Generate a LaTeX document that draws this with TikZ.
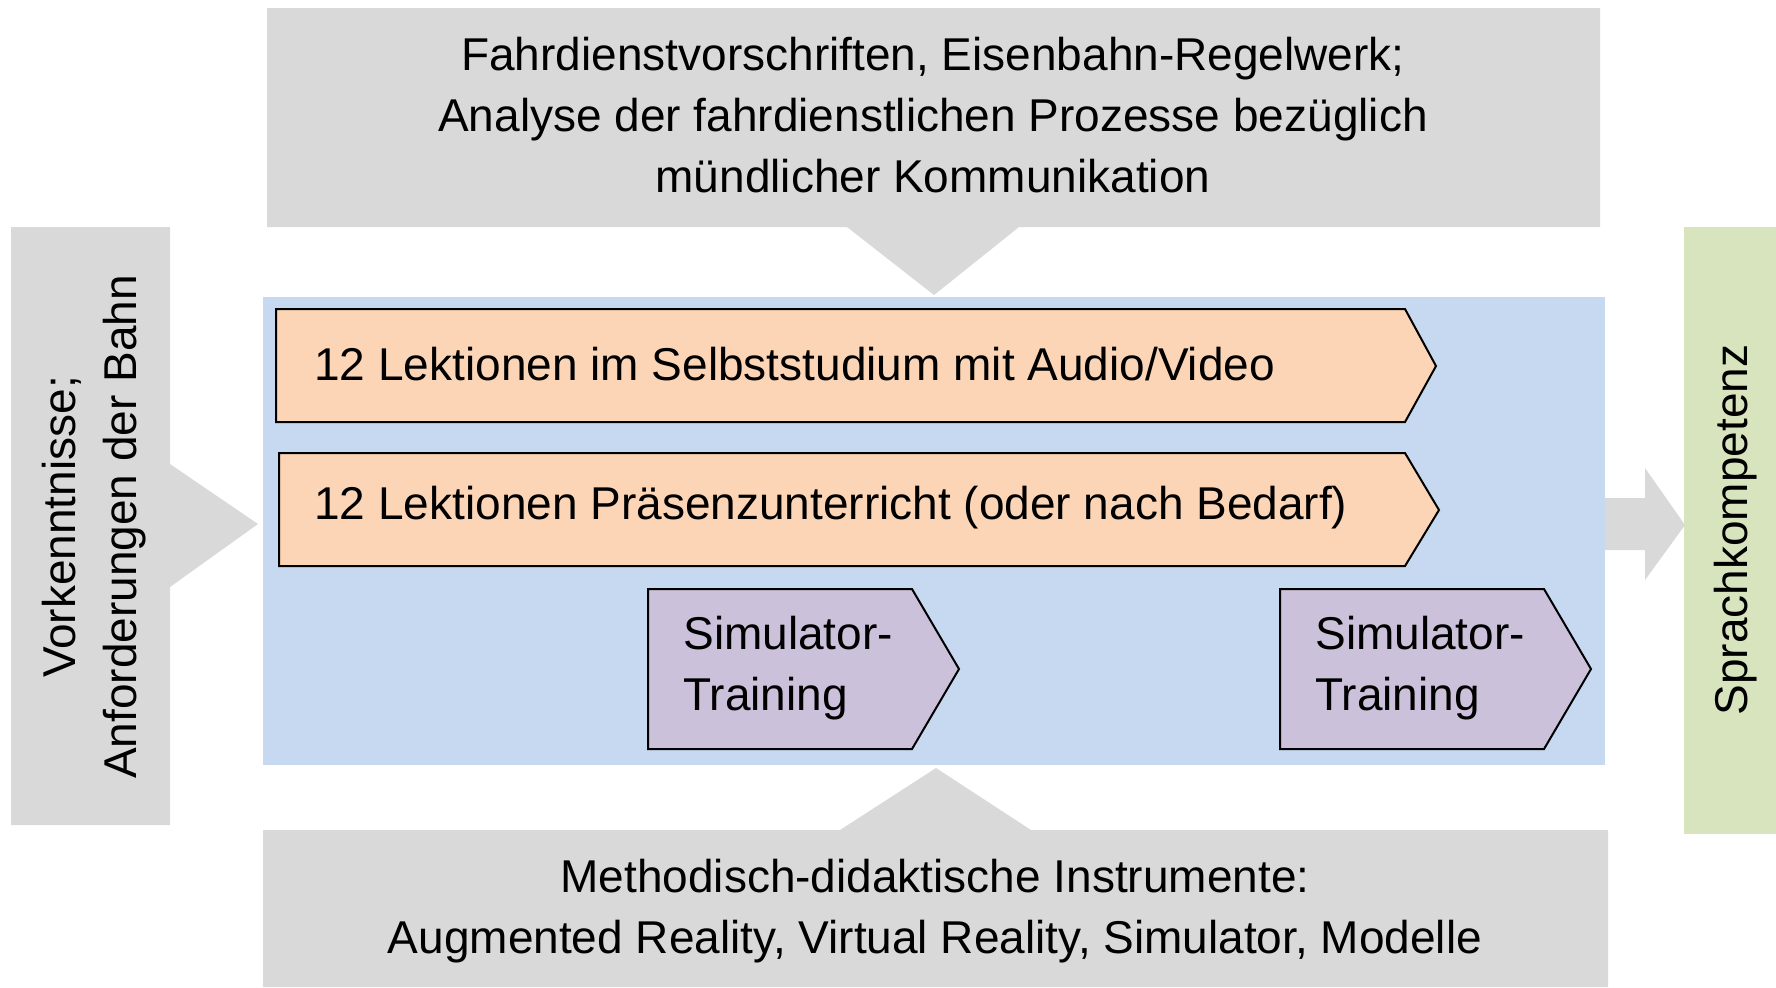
\documentclass[tikz,border=0pt]{standalone}
\usepackage{fontspec}
\setmainfont{Liberation Sans}
\definecolor{boxgray}{HTML}{D9D9D9}
\definecolor{bluebg}{HTML}{C6D9F0}
\definecolor{orangef}{HTML}{FBD5B5}
\definecolor{purplef}{HTML}{CCC1DA}
\definecolor{greenf}{HTML}{D7E4BD}
\begin{document}
\begin{tikzpicture}[x=0.5pt,y=-0.5pt,
  txt/.style={inner sep=0pt, font=\fontsize{23}{30.3}\selectfont},
  chev/.style={draw=black, line width=1pt, line join=miter}]
\useasboundingbox (0,0) rectangle (1776,987);
% top input
\fill[boxgray] (267,8) -- (1600,8) -- (1600,227) -- (1019,227) -- (934,295) -- (847,227) -- (267,227) -- cycle;
% left input
\fill[boxgray] (11,227) -- (170,227) -- (170,464) -- (258,524) -- (170,587) -- (170,825) -- (11,825) -- cycle;
% bottom input
\fill[boxgray] (263,830) -- (840,830) -- (936,768) -- (1031,830) -- (1608,830) -- (1608,987) -- (263,987) -- cycle;
% green output
\fill[greenf] (1684,227) rectangle (1776,834);
% right arrow
\fill[boxgray] (1600,498) -- (1645,498) -- (1645,468) -- (1685,525) -- (1645,580) -- (1645,550) -- (1600,550) -- cycle;
% blue area
\fill[bluebg] (263,297) rectangle (1605,765);
% orange chevrons
\draw[chev, fill=orangef] (276,309) -- (1405,309) -- (1436,366) -- (1405,422) -- (276,422) -- cycle;
\draw[chev, fill=orangef] (279,453) -- (1405,453) -- (1439,510) -- (1405,566) -- (279,566) -- cycle;
% purple chevrons
\draw[chev, fill=purplef] (648,589) -- (912,589) -- (959,669) -- (912,749) -- (648,749) -- cycle;
\draw[chev, fill=purplef] (1280,589) -- (1544,589) -- (1591,669) -- (1544,749) -- (1280,749) -- cycle;
% texts
\node[txt, align=center] (top) at (933,115) {Fahrdienstvorschriften, Eisenbahn-Regelwerk;\\Analyse der fahrdienstlichen Prozesse bezüglich\\mündlicher Kommunikation};
\node[txt, align=center] (bottom) at (935,911) {Methodisch-didaktische Instrumente:\\Augmented Reality, Virtual Reality, Simulator, Modelle};
\node[txt, align=center, rotate=90] (left) at (94,527) {Vorkenntnisse;\\Anforderungen der Bahn};
\node[txt, rotate=90] (right) at (1736,530) {Sprachkompetenz};
\node[txt, anchor=west] (o1) at (314,364) {12 Lektionen im Selbststudium mit Audio/Video};
\node[txt, anchor=west] (o2) at (314,508) {12 Lektionen Präsenzunterricht (oder nach Bedarf)};
\node[txt, anchor=west, align=left] (p1) at (683,668) {Simulator-\\Training};
\node[txt, anchor=west, align=left] (p2) at (1315,668) {Simulator-\\Training};
\end{tikzpicture}
\end{document}
